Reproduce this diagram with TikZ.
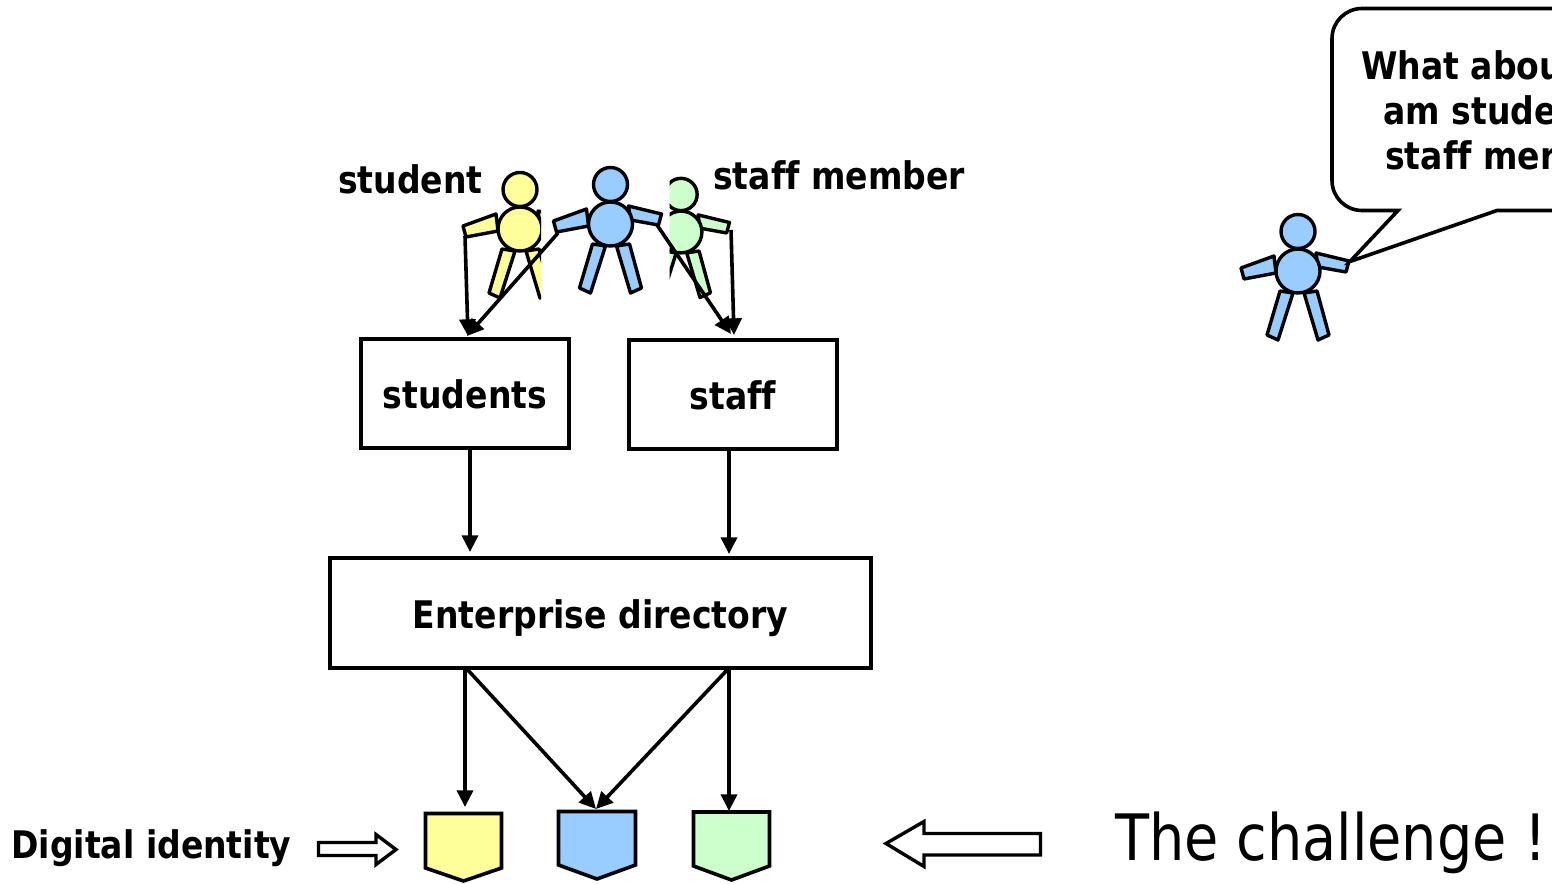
\documentclass[tikz,border=0pt]{standalone}
\usepackage{fontspec}
\usetikzlibrary{arrows.meta}
\setmainfont{DejaVu Sans}
\newfontfamily\tahbold[FakeStretch=0.87,Ligatures=NoCommon]{DejaVu Sans Bold}
\newfontfamily\tahreg[FakeStretch=0.87]{DejaVu Sans}
\definecolor{pyellow}{HTML}{FFFF99}
\definecolor{pblue}{HTML}{99CCFF}
\definecolor{pgreen}{HTML}{CCFFCC}
\def\px{0.75pt}
\tikzset{
  boxnode/.style={draw,line width=3.6*\px,inner sep=0pt,text height=23pt,text depth=0pt,font=\tahbold\fontsize{28.5pt}{34pt}\selectfont},
  lbl/.style={anchor=base west,inner sep=0pt,font=\tahbold\fontsize{28.5pt}{34pt}\selectfont},
  conn/.style={line width=3.6*\px,-{Triangle[length=12.5pt,width=12pt]}},
  idshape/.style={draw,line width=3.6*\px,miter limit=10},
  hollow/.style={draw,line width=3.4*\px,fill=white,miter limit=10},
  limb/.style={draw=black,line width=3.4*\px,line join=round}
}
\newcommand{\personfig}[4]{%
  \begin{scope}[shift={(#1,#2)},scale=#3]
    \path[limb,fill=#4] (-24,-15) -- (-57,-3) -- (-54,8) -- (-22,2) -- cycle;
    \path[limb,fill=#4] (18,-18) -- (51,-10) -- (48,1) -- (20,-4) -- cycle;
    \path[limb,fill=#4] (-18,20) -- (-31,64) -- (-20,69) -- (-5,22) -- cycle;
    \path[limb,fill=#4] (6,22) -- (20,69) -- (31,64) -- (19,20) -- cycle;
    \path[limb,fill=#4] (0,-39.5) circle (17);
    \path[limb,fill=#4] (0,0) circle (22);
  \end{scope}}
\begin{document}
\begin{tikzpicture}[x=0.75pt,y=-0.75pt]
\useasboundingbox (0,0) rectangle (1552,884);
% people
\begin{scope}
  \clip (400,150) rectangle (541,310);
  \personfig{520}{229}{1}{pyellow}
\end{scope}
\begin{scope}
  \clip (669.5,150) rectangle (800,310);
  \personfig{681}{232}{0.95}{pgreen}
\end{scope}
\personfig{610.5}{224}{1}{pblue}
\personfig{1298}{271}{1}{pblue}
% hands
\coordinate (hy) at (465,236);
\coordinate (hbl) at (558,233);
\coordinate (hbr) at (657,225);
\coordinate (hg) at (731,230);
% boxes
\node[boxnode,minimum width=208*\px,minimum height=109*\px] (students) at (465,393.5) {students};
\node[boxnode,minimum width=208*\px,minimum height=109*\px] (staff) at (733,394.5) {staff};
\node[boxnode,minimum width=541*\px,minimum height=110*\px] (ent) at (600.5,613) {Enterprise directory};
% identities
\draw[idshape,fill=pyellow] (425.5,813.5) -- (501.5,813.5) -- (501.5,868) -- (463.5,881) -- (425.5,868) -- cycle;
\draw[idshape,fill=pblue] (558.5,811.5) -- (635.5,811.5) -- (635.5,865) -- (597,879) -- (558.5,865) -- cycle;
\draw[idshape,fill=pgreen] (693.5,812) -- (769.5,812) -- (769.5,866) -- (731.5,880) -- (693.5,866) -- cycle;
% connector ends
\coordinate (sa) at (468,336);
\coordinate (sb) at (467,336);
\coordinate (ta) at (731,334);
\coordinate (tb) at (734,335);
\coordinate (e1) at (470,552);
\coordinate (e2) at (729,554);
\coordinate (d1) at (465,807);
\coordinate (d2) at (596,809);
\coordinate (d3) at (729,811);
\coordinate (o1) at (466,668);
\coordinate (o2) at (729,668);
% connectors
\draw[conn] (hy) -- (sa);
\draw[conn] (hbl) -- (sb);
\draw[conn] (hbr) -- (ta);
\draw[conn] (hg) -- (tb);
\draw[conn] (students.south -| e1) -- (e1);
\draw[conn] (staff.south -| e2) -- (e2);
\draw[conn] (ent.south -| d1) -- (d1);
\draw[conn] (o1) -- (d2);
\draw[conn] (o2) -- (d2);
\draw[conn] (ent.south -| d3) -- (d3);
% hollow arrows
\draw[hollow] (318.5,842.5) -- (376,842.5) -- (376,834.5) -- (396,849.5) -- (376,864.5) -- (376,855.5) -- (318.5,855.5) -- cycle;
\draw[hollow] (1040.5,833.5) -- (924,833.5) -- (924,821.5) -- (886,843.5) -- (924,866.5) -- (924,855) -- (1040.5,855) -- cycle;
% speech bubble
\draw[line width=3.6*\px,fill=white,line join=miter,miter limit=10] (1700,8.5) -- (1362,8.5) .. controls (1345.4,8.5) and (1332,21.9) .. (1332,38.5) -- (1332,180.5) .. controls (1332,197.1) and (1345.4,210.5) .. (1362,210.5) -- (1398,210.5) -- (1350,261.5) -- (1497,210.5) -- (1700,210.5);
% labels
\node[lbl] (l1) at (338,194) {student};
\node[lbl] (l2) at (713,190) {staff member};
\node[lbl] (l3) at (11,858) {Digital identity};
\node[lbl] (b1) at (1361,80) {What abou};
\node[lbl] (b2) at (1383,125) {am stude};
\node[lbl] (b3) at (1385,170) {staff mer};
\node[anchor=base west,inner sep=0pt,font=\tahreg\fontsize{48pt}{56pt}\selectfont] (ch) at (1115,860) {The challenge !};
\end{tikzpicture}
\end{document}
